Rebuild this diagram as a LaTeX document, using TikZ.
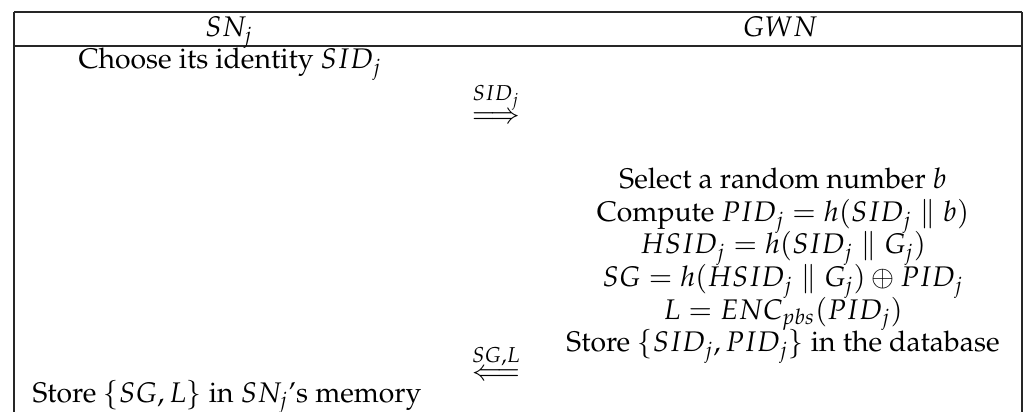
\documentclass[tikz,border=0pt]{standalone}
\usepackage[T1]{fontenc}
\usepackage{mathpazo}
\begin{document}
\begin{tikzpicture}[x=0.3527pt,y=-0.3527pt,
  rule/.style={line width=0.5pt, draw=black!85},
  txt/.style={inner sep=0pt, anchor=base}]
\useasboundingbox (0,0) rectangle (1024,412);
% table frame
\coordinate (tl) at (14,12);
\coordinate (tr) at (1022,12);
\coordinate (hl) at (14,46);
\coordinate (hr) at (1022,46);
\coordinate (bl) at (14,412);
\coordinate (br) at (1022,412);
\draw[rule] (tl) -- (tr);
\draw[rule] (hl) -- (hr);
\draw[rule] (tl) -- (bl);
\draw[rule] (tr) -- (br);
% header
\node[txt] (sn) at (229,37) {$SN_j$};
\node[txt] (gwn) at (780,37) {$GWN$};
% rows
\node[txt] (choose) at (230,69) {Choose its identity $SID_j$};
\node[txt] (a1) at (496,124) {$\stackrel{SID_j}{\Longrightarrow}$};
\node[txt] (g1) at (783,189) {Select a random number $b$};
\node[txt] (g2) at (783,221.5) {Compute $PID_j = h(SID_j \parallel b)$};
\node[txt] (g3) at (783,254) {$HSID_j = h(SID_j \parallel G_j)$};
\node[txt] (g4) at (783,286.5) {$SG = h(HSID_j \parallel G_j) \oplus PID_j$};
\node[txt] (g5) at (783,319) {$L = ENC_{pbs}(PID_j)$};
\node[txt] (g6) at (783,351.5) {Store $\{SID_j, PID_j\}$ in the database};
\node[txt] (a2) at (496,380) {$\stackrel{SG,L}{\Longleftarrow}$};
\node[txt] (last) at (227,402) {Store $\{SG, L\}$ in $SN_j$'s memory};
\end{tikzpicture}
\end{document}
